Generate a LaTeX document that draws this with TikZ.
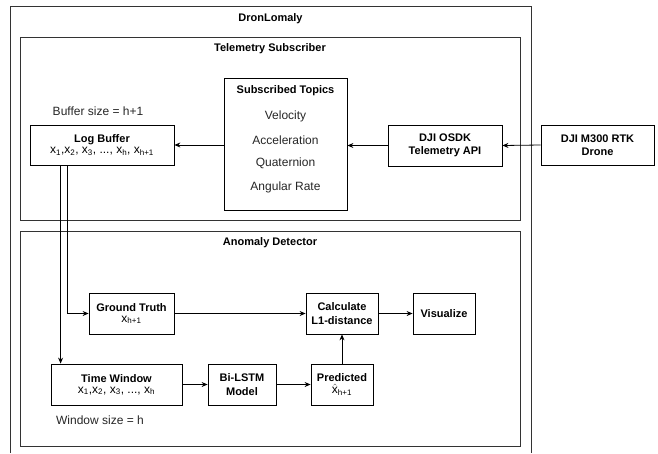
\documentclass[tikz,border=0pt]{standalone}
\usepackage{fontspec}
\setmainfont{Liberation Sans}
\usetikzlibrary{arrows.meta}
\begin{document}
\begin{tikzpicture}[x=1pt,y=-1pt,
  box/.style={draw=black,line width=0.8pt,inner sep=0pt,align=center,font=\fontsize{12}{13}\selectfont},
  bbox/.style={box,font=\bfseries\fontsize{11}{13.5}\selectfont},
  lbl/.style={inner sep=0pt,font=\fontsize{12}{14}\selectfont,text=black!85},
  ttl/.style={inner sep=0pt,font=\bfseries\fontsize{11}{13}\selectfont},
  arr/.style={line width=0.8pt,-{Stealth[length=6pt,width=5pt]}},
  frame/.style={draw=black!80,line width=0.9pt}]
\useasboundingbox (0,0) rectangle (658,453);
% outer container (open at the bottom)
\draw[frame] (10,453) -- (10,6) -- (531,6) -- (531,453);
\node[ttl] (title) at (270.5,19) {DronLomaly};
% Telemetry subscriber
\node[frame,minimum width=500pt,minimum height=183pt,inner sep=0pt] (ts) at (270,128.5) {};
\node[ttl] (tstitle) at (270,49) {Telemetry Subscriber};
% Anomaly detector
\node[frame,minimum width=500pt,minimum height=215pt,inner sep=0pt] (ad) at (270,338.5) {};
\node[ttl] (adtitle) at (270,243) {Anomaly Detector};

% Telemetry nodes
\node[box,minimum width=123pt,minimum height=132pt] (st) at (285.5,144) {};
\node[ttl] (st0) at (285.5,91) {Subscribed Topics};
\node[lbl] (st1) at (285.5,116) {Velocity};
\node[lbl] (st2) at (285.5,140) {Acceleration};
\node[lbl] (st3) at (285.5,163) {Quaternion};
\node[lbl] (st4) at (285.5,187) {Angular Rate};

\node[box,minimum width=144pt,minimum height=40pt] (lb) at (102,145)
  {{\bfseries\fontsize{11}{12}\selectfont Log Buffer}\\[-2pt] x\textsubscript{1},x\textsubscript{2}, x\textsubscript{3}, ..., x\textsubscript{h}, x\textsubscript{h+1}};
\node[lbl] (bs) at (98,111) {Buffer size = h+1};

\node[bbox,minimum width=114pt,minimum height=41pt] (api) at (445,145.5) {DJI OSDK\\Telemetry API};
\node[bbox,minimum width=113pt,minimum height=40pt] (drone) at (597.5,145) {DJI M300 RTK\\Drone};

% Anomaly nodes
\node[box,minimum width=85pt,minimum height=41pt] (gt) at (131.5,313.5) {{\bfseries\fontsize{11}{12}\selectfont Ground Truth}\\[-2pt] x\textsubscript{h+1}};
\node[bbox,minimum width=72pt,minimum height=41pt] (calc) at (342,313.5) {Calculate\\L1-distance};
\node[bbox,minimum width=62pt,minimum height=41pt] (vis) at (444,313.5) {Visualize};
\node[box,minimum width=131pt,minimum height=41pt] (tw) at (116.5,384.5)
  {{\bfseries\fontsize{11}{12}\selectfont Time Window}\\[-2pt] x\textsubscript{1},x\textsubscript{2}, x\textsubscript{3}, ..., x\textsubscript{h}};
\node[bbox,minimum width=68pt,minimum height=41pt] (lstm) at (242,384.5) {Bi-LSTM\\Model};
\node[box,minimum width=62pt,minimum height=41pt] (pred) at (342,384.5) {{\bfseries\fontsize{11}{12}\selectfont Predicted}\\[-1pt] \(\hat{\mbox{x}}\)\textsubscript{h+1}};
\node[lbl] (ws) at (100,420) {Window size = h};

% connectors
\draw[arr] (drone.west) -- (api.east);
\draw[arr] (api.west) -- (st.east |- api.west);
\draw[arr] (st.west |- lb.east) -- (lb.east);
\draw[arr] ([xshift=31pt]lb.south west) -- ([xshift=10pt]tw.north west);
\draw[arr] ([xshift=38pt]lb.south west) |- (gt.west);
\draw[arr] (gt.east) -- (calc.west);
\draw[arr] (calc.east) -- (vis.west);
\draw[arr] (tw.east) -- (lstm.west);
\draw[arr] (lstm.east) -- (pred.west);
\draw[arr] (pred.north) -- (calc.south);
\end{tikzpicture}
\end{document}
